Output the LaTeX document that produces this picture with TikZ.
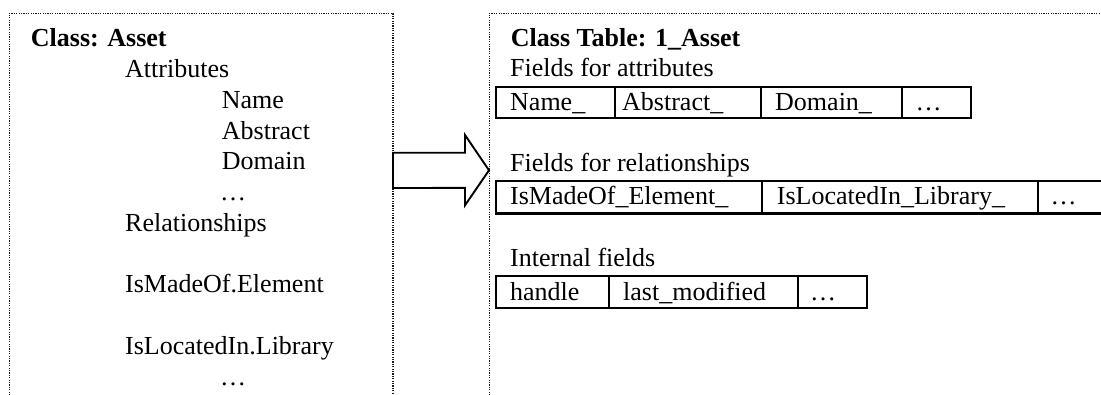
\documentclass[tikz,border=0pt]{standalone}
\usepackage{fontspec}
\setmainfont{Liberation Serif}
\tikzset{
  frame/.style={line width=1.3pt, dash pattern=on 1.2pt off 1.2pt, black!90},
  cell/.style={draw, line width=2.2pt, inner sep=0pt, anchor=north west},
  txt/.style={anchor=base west, inner sep=0pt, font=\fontsize{26pt}{30pt}\selectfont},
  head/.style={txt, font=\fontsize{26pt}{30pt}\selectfont\bfseries},
  blockarrow/.style={draw, line width=1.9pt, fill=white, line join=miter}
}
\begin{document}
\begin{tikzpicture}[x=1pt, y=-1pt]
  \useasboundingbox (0,0) rectangle (1101,394);
  \clip (0,0) rectangle (1101,394);

  % dotted frames, open at the bottom (and on the right for the table frame)
  \coordinate (lft-tl) at (9.3,13.3);
  \coordinate (lft-tr) at (393,13.3);
  \coordinate (rgt-tl) at (489.3,13.3);
  \draw[frame] (lft-tl |- 0,400) -- (lft-tl) -- (lft-tr) -- (lft-tr |- 0,400);
  \draw[frame] (rgt-tl |- 0,400) -- (rgt-tl) -- (1110,13.3);

  % class description
  \node[head] (cls)   at (30.7,46.7)  {Class: Asset};
  \node[txt]  (attr)  at (125,77.5)   {Attributes};
  \node[txt]  (aname) at (221.7,108.2){Name};
  \node[txt]  (aabs)  at (221.7,139)  {Abstract};
  \node[txt]  (adom)  at (221.7,169.7){Domain};
  \node[txt]  (amore) at (219.8,200.5){…};
  \node[txt]  (rel)   at (125,231.2)  {Relationships};
  \node[txt]  (relem) at (125,292.7)  {IsMadeOf.Element};
  \node[txt]  (rlib)  at (125,354.2)  {IsLocatedIn.Library};
  \node[txt]  (rmore) at (219.8,385)  {…};

  % mapping arrow between the two frames
  \coordinate (src) at (393,170.3);
  \coordinate (dst) at (489,170.3);
  \draw[blockarrow] (src) ++(0,-17.6) -- ++(72,0) -- ++(0,-17.7)
    -- (dst) -- ([xshift=-24pt,yshift=-35pt]dst) -- ++(0,-17.4)
    -- ([yshift=-17.7pt]src) -- cycle;

  % class table
  \node[head] (tbl) at (510.7,46.7) {Class Table: 1\_Asset};

  \node[txt] (fattr) at (510,76) {Fields for attributes};
  \node[cell, minimum width=119pt,   minimum height=30.7pt] (c11) at (495,86)   {};
  \node[cell, minimum width=146pt,   minimum height=30.7pt] (c12) at (614,86)   {};
  \node[cell, minimum width=140.7pt, minimum height=30.7pt] (c13) at (760,86)   {};
  \node[cell, minimum width=69.3pt,  minimum height=30.7pt] (c14) at (900.7,86) {};
  \node[txt] (t11) at (510,110)   {Name\_};
  \node[txt] (t12) at (622,110)   {Abstract\_};
  \node[txt] (t13) at (775,110)   {Domain\_};
  \node[txt] (t14) at (915.5,110) {…};

  \node[txt] (frel) at (510,171.7) {Fields for relationships};
  \node[cell, minimum width=266pt,   minimum height=32.3pt] (c21) at (495,180)    {};
  \node[cell, minimum width=275.7pt, minimum height=32.3pt] (c22) at (761,180)    {};
  \node[cell, minimum width=90pt,    minimum height=32.3pt] (c23) at (1036.7,180) {};
  \node[txt] (t21) at (510,204)    {IsMadeOf\_Element\_};
  \node[txt] (t22) at (776.7,204)  {IsLocatedIn\_Library\_};
  \node[txt] (t23) at (1050.3,204) {…};

  \node[txt] (fint) at (510,266.7) {Internal fields};
  \node[cell, minimum width=113pt, minimum height=31.7pt] (c31) at (495,275) {};
  \node[cell, minimum width=189pt, minimum height=31.7pt] (c32) at (608,275) {};
  \node[cell, minimum width=69pt,  minimum height=31.7pt] (c33) at (797,275) {};
  \node[txt] (t31) at (510,300) {handle};
  \node[txt] (t32) at (623,300) {last\_modified};
  \node[txt] (t33) at (810,300) {…};
\end{tikzpicture}
\end{document}
